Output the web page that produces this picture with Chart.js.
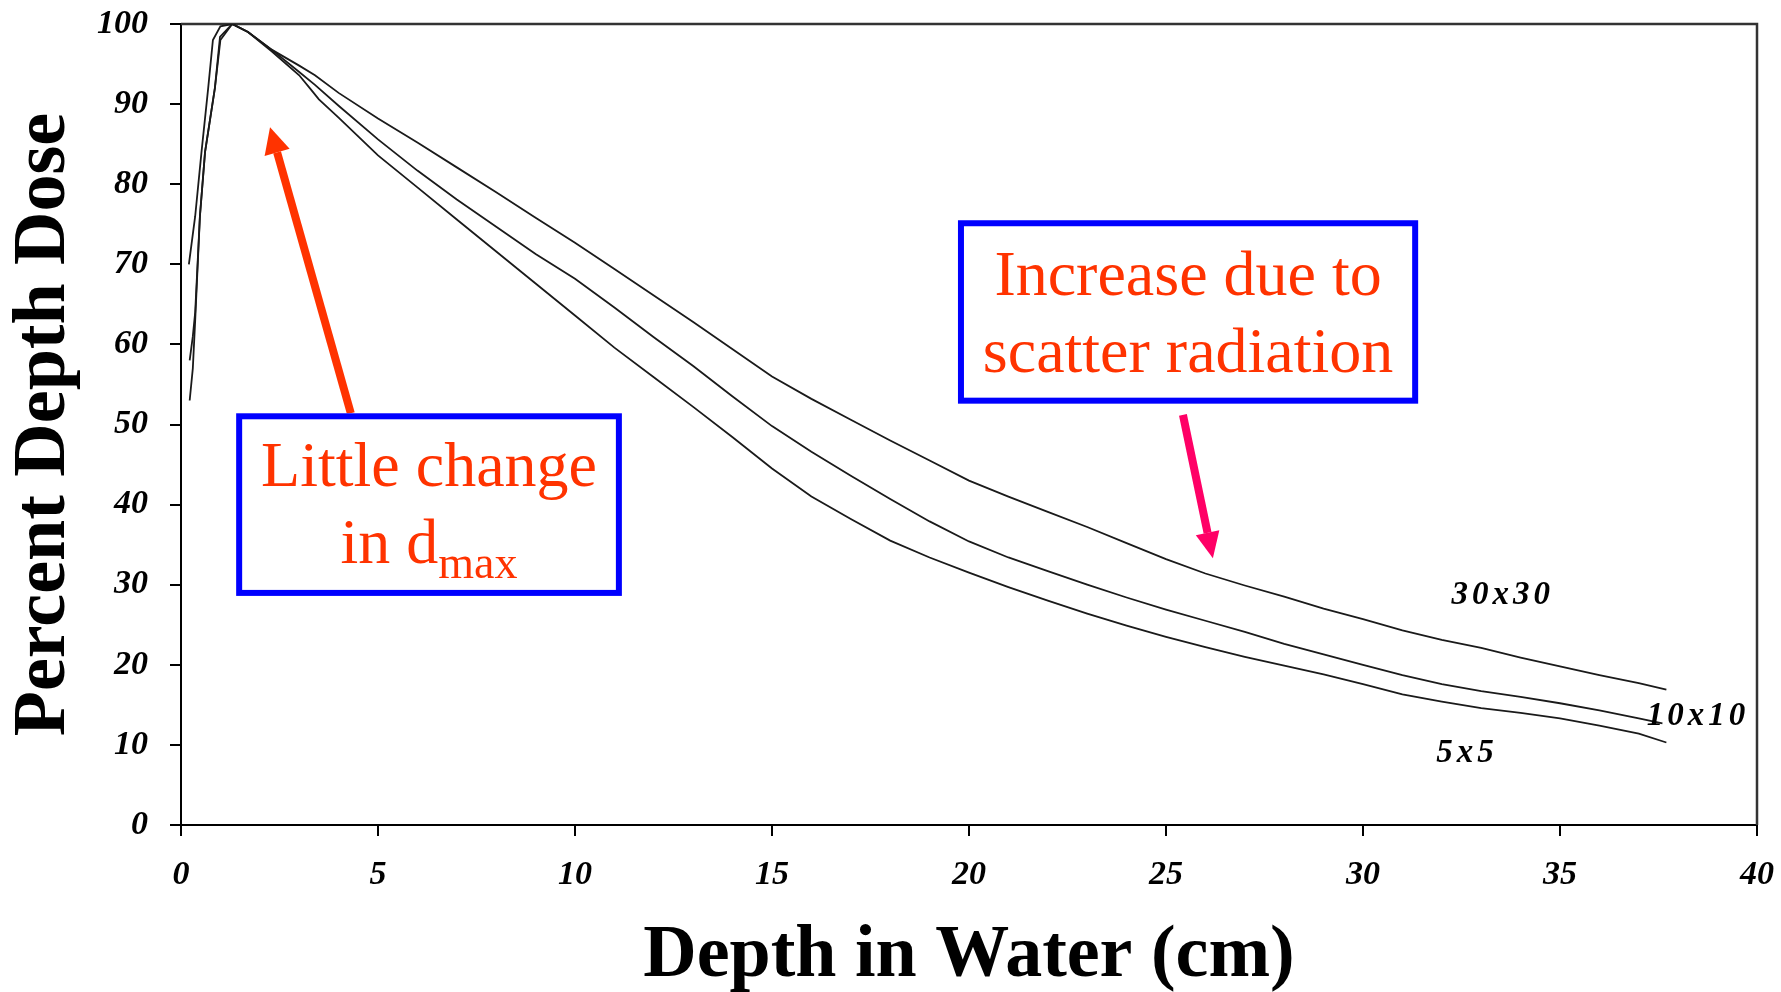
<!DOCTYPE html>
<html>
<head>
<meta charset="utf-8">
<title>Percent Depth Dose</title>
<script src="https://cdn.jsdelivr.net/npm/chart.js@4.4.1/dist/chart.umd.min.js"></script>
<style>
  html, body { margin: 0; padding: 0; background: #fff; }
</style>
</head>
<body>
<canvas id="pdd" width="1781" height="992"></canvas>
<script>
// depth-dose curves for three field sizes (depth in cm, dose in %)
const depth30 = [0.2, 0.36, 0.52, 0.69, 0.81, 1.0, 1.3, 1.7, 2.3, 3, 3.4, 4, 5, 6, 7, 8, 9, 10, 11, 12, 13, 14, 15, 16, 17, 18, 19, 20,
  21, 22, 23, 24, 25, 26, 27, 28, 29, 30, 31, 32, 33, 34, 35, 36, 37, 37.7];
const dose30 = [70, 76, 84, 92, 98, 99.7, 100, 99, 96.8, 94.8, 93.6, 91.4, 88.2, 85.2, 82.1, 79, 75.8, 72.7, 69.4, 66.1, 62.8, 59.4, 56, 53.2, 50.6, 48, 45.5, 43,
  41, 39.1, 37.2, 35.2, 33.2, 31.4, 29.9, 28.5, 27, 25.7, 24.3, 23.1, 22.1, 20.9, 19.8, 18.7, 17.7, 16.9];

const depth10 = [0.22, 0.3, 0.36, 0.48, 0.61, 0.86, 0.99, 1.3, 1.7, 2.3, 3, 3.4, 4, 5, 6, 7, 8, 9, 10, 11, 12, 13, 14, 15, 16, 17, 18, 19, 20,
  21, 22, 23, 24, 25, 26, 27, 28, 29, 30, 31, 32, 33, 34, 35, 36, 37, 37.6];
const dose10 = [58, 61, 64, 76, 84, 92, 98.4, 100, 99, 96.8, 94, 92.4, 89.8, 85.6, 81.7, 78.1, 74.7, 71.3, 68.2, 64.6, 60.9, 57.3, 53.5, 49.8, 46.6, 43.6, 40.7, 37.9, 35.4,
  33.4, 31.7, 30, 28.4, 26.9, 25.5, 24.1, 22.6, 21.3, 20, 18.7, 17.6, 16.7, 16, 15.2, 14.3, 13.3, 12.7];

const depth5 = [0.22, 0.3, 0.36, 0.48, 0.61, 0.86, 1.0, 1.3, 1.7, 2.3, 3, 3.3, 3.5, 4, 5, 6, 7, 8, 9, 10, 11, 12, 13, 14, 15, 16, 17, 18, 19, 20,
  21, 22, 23, 24, 25, 26, 27, 28, 29, 30, 31, 32, 33, 34, 35, 36, 37, 37.7];
const dose5 = [53, 57, 63, 76, 84, 92, 98, 100, 99, 96.6, 93.6, 91.8, 90.6, 88.3, 83.6, 79.6, 75.6, 71.6, 67.6, 63.6, 59.6, 55.9, 52.2, 48.4, 44.5, 41, 38.2, 35.5, 33.4, 31.5,
  29.7, 28, 26.4, 24.9, 23.5, 22.2, 21, 19.9, 18.8, 17.6, 16.3, 15.4, 14.6, 14, 13.3, 12.4, 11.4, 10.3];

const xTicks = [0, 5, 10, 15, 20, 25, 30, 35, 40];
const yTicks = [0, 10, 20, 30, 40, 50, 60, 70, 80, 90, 100];

// field size labels next to the curve tails: [text, depth, dose]
const curveLabels = [
  ['30x30', 33.55, 28.7],
  ['10x10', 38.5, 13.6],
  ['5x5', 32.64, 8.9]
];

const RED = '#ff3300';
const PINK = '#ff0066';
const BLUE = '#0000ff';
const SERIF = '"Liberation Serif", "Times New Roman", serif';

function pairs(xs, ys) {
  return xs.map((x, i) => ({ x, y: ys[i] }));
}

function curve(label, xs, ys) {
  return {
    label,
    data: pairs(xs, ys),
    borderColor: '#1a1a1a',
    borderWidth: 1.8,
    pointRadius: 0,
    tension: 0,
    fill: false
  };
}

function drawArrow(ctx, x1, y1, x2, y2, color, width, headLen, headWidth) {
  const ang = Math.atan2(y2 - y1, x2 - x1);
  const bx = x2 - headLen * Math.cos(ang);
  const by = y2 - headLen * Math.sin(ang);
  ctx.strokeStyle = color;
  ctx.lineWidth = width;
  ctx.beginPath();
  ctx.moveTo(x1, y1);
  ctx.lineTo(bx, by);
  ctx.stroke();
  ctx.fillStyle = color;
  ctx.beginPath();
  ctx.moveTo(x2, y2);
  ctx.lineTo(bx + headWidth / 2 * Math.sin(ang), by - headWidth / 2 * Math.cos(ang));
  ctx.lineTo(bx - headWidth / 2 * Math.sin(ang), by + headWidth / 2 * Math.cos(ang));
  ctx.closePath();
  ctx.fill();
}

function drawBox(ctx, x1, y1, x2, y2) {
  ctx.fillStyle = '#fff';
  ctx.fillRect(x1, y1, x2 - x1, y2 - y1);
  ctx.strokeStyle = BLUE;
  ctx.lineWidth = 6;
  ctx.strokeRect(x1 + 3, y1 + 3, x2 - x1 - 6, y2 - y1 - 6);
}

// top and right edges of the plot box
const frame = {
  id: 'frame',
  beforeDatasetsDraw(chart) {
    const { ctx, chartArea: a } = chart;
    ctx.save();
    ctx.strokeStyle = '#333';
    ctx.lineWidth = 2.5;
    ctx.beginPath();
    ctx.moveTo(a.left, a.top);
    ctx.lineTo(a.right, a.top);
    ctx.lineTo(a.right, a.bottom);
    ctx.stroke();
    ctx.restore();
  }
};

// curve names + the two callouts with arrows
const notes = {
  id: 'notes',
  afterDatasetsDraw(chart) {
    const { ctx } = chart;
    const sx = v => chart.scales.x.getPixelForValue(v);
    const sy = v => chart.scales.y.getPixelForValue(v);
    ctx.save();

    ctx.fillStyle = '#000';
    ctx.font = `italic bold 33px ${SERIF}`;
    ctx.letterSpacing = '4px';
    ctx.textAlign = 'center';
    ctx.textBaseline = 'middle';
    curveLabels.forEach(([t, d, v]) => ctx.fillText(t, sx(d), sy(v)));
    ctx.letterSpacing = '0px';

    // d_max callout
    drawArrow(ctx, sx(4.31), sy(51.4), sx(2.26), sy(87.1), RED, 8, 26, 26);
    const b1 = [sx(1.40), sy(51.4), sx(11.19), sy(28.6)];
    drawBox(ctx, ...b1);
    const c1 = (b1[0] + b1[2]) / 2;
    ctx.fillStyle = RED;
    ctx.textBaseline = 'alphabetic';
    ctx.textAlign = 'center';
    ctx.font = `64px ${SERIF}`;
    ctx.fillText('Little change', c1, b1[1] + 73);
    const main = 'in d';
    const sub = 'max';
    const wMain = ctx.measureText(main).width;
    ctx.font = `46px ${SERIF}`;
    const wSub = ctx.measureText(sub).width;
    const start = c1 - (wMain + wSub) / 2;
    ctx.textAlign = 'left';
    ctx.font = `64px ${SERIF}`;
    ctx.fillText(main, start, b1[1] + 150);
    ctx.font = `46px ${SERIF}`;
    ctx.fillText(sub, start + wMain, b1[1] + 165);

    // scatter callout
    const b2 = [sx(19.72), sy(75.5), sx(31.40), sy(52.6)];
    drawBox(ctx, ...b2);
    const c2 = (b2[0] + b2[2]) / 2;
    ctx.textAlign = 'center';
    ctx.font = `64px ${SERIF}`;
    ctx.fillStyle = RED;
    ctx.fillText('Increase due to', c2, b2[1] + 75);
    ctx.fillText('scatter radiation', c2, b2[1] + 152);
    drawArrow(ctx, sx(25.43), sy(51.2), sx(26.19), sy(33.3), PINK, 8, 26, 24);

    ctx.restore();
  }
};

const tickFont = { family: SERIF, size: 34, style: 'italic', weight: 'bold' };
const titleFont = { family: SERIF, size: 74, weight: 'bold', lineHeight: 1 };

new Chart(document.getElementById('pdd'), {
  type: 'line',
  data: {
    datasets: [
      curve('30x30', depth30, dose30),
      curve('10x10', depth10, dose10),
      curve('5x5', depth5, dose5)
    ]
  },
  options: {
    responsive: false,
    animation: false,
    layout: { padding: { top: 24, right: 24, left: 0, bottom: 0 } },
    plugins: {
      legend: { display: false },
      tooltip: { enabled: false }
    },
    scales: {
      x: {
        type: 'linear',
        min: 0,
        max: 40,
        afterFit: s => {
          s.height = 167;
          s.paddingLeft = 0;
          s.paddingRight = 0;
        },
        afterBuildTicks: s => { s.ticks = xTicks.map(v => ({ value: v })); },
        ticks: { color: '#000', font: tickFont, padding: 19, maxRotation: 0 },
        grid: { drawOnChartArea: false, drawTicks: true, tickLength: 11, color: '#000', lineWidth: 2 },
        border: { color: '#000', width: 2 },
        title: {
          display: true,
          text: 'Depth in Water (cm)',
          color: '#000',
          font: titleFont,
          padding: { top: 0, bottom: -2 }
        }
      },
      y: {
        min: 0,
        max: 100,
        afterFit: s => {
          s.width = 181;
          s.paddingTop = 0;
          s.paddingBottom = 0;
        },
        afterBuildTicks: s => { s.ticks = yTicks.map(v => ({ value: v })); },
        ticks: { color: '#000', font: tickFont, padding: 22 },
        grid: { drawOnChartArea: false, drawTicks: true, tickLength: 11, color: '#000', lineWidth: 2 },
        border: { color: '#000', width: 2 },
        title: {
          display: true,
          text: 'Percent Depth Dose',
          color: '#000',
          font: titleFont,
          padding: { top: 8, bottom: 0 }
        }
      }
    }
  },
  plugins: [frame, notes]
});
</script>
</body>
</html>
